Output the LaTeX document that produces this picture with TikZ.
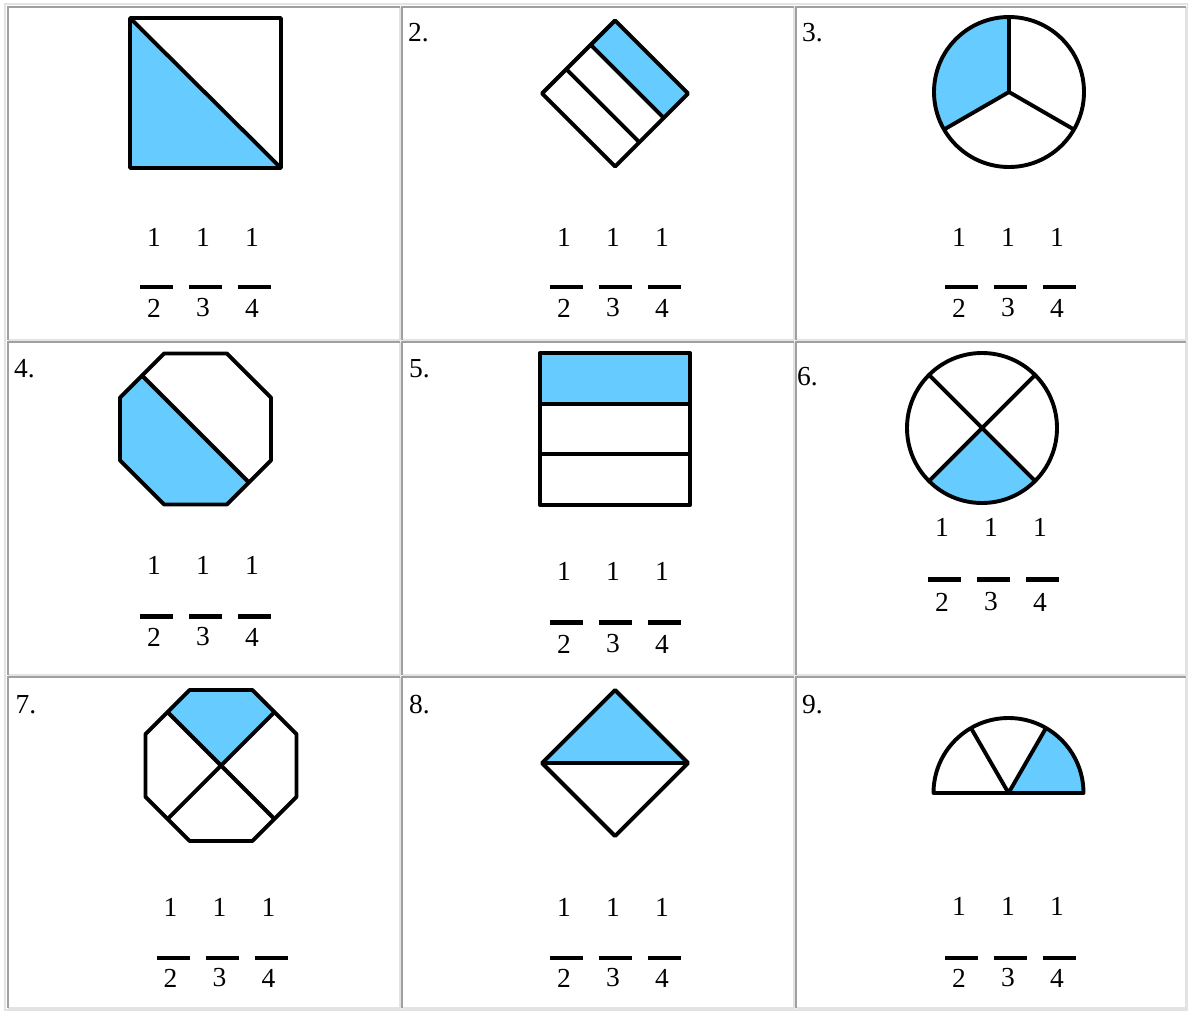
\documentclass[tikz,border=0pt]{standalone}
\usepackage{fontspec}
\setmainfont{Liberation Serif}
\definecolor{fracBlue}{HTML}{66CCFF}
\definecolor{cellDark}{HTML}{A0A0A0}
\definecolor{cellLight}{HTML}{E3E3E3}
\usepackage{tikz}
\usetikzlibrary{calc}

\tikzset{
  part/.style={draw=black, line width=3.9pt, line join=round},
  shade/.style={fill=fracBlue},
  num/.style={inner sep=0pt, font=\fontsize{27.5}{32}\selectfont},
  fbar/.style={fill=black, inner sep=0pt, minimum width=33pt, minimum height=4.5pt},
  cellno/.style={anchor=base west, inner sep=0pt, font=\fontsize{27.5}{32}\selectfont},
  celldark/.style={draw=cellDark, line width=2pt},
  celllight/.style={draw=cellLight, line width=2pt}
}

\begin{document}
\begin{tikzpicture}[x=1pt, y=-1pt]
\useasboundingbox[fill=white] (0,0) rectangle (1188,1011);
% table frame and cells
\draw[celllight] (5,4) rectangle (1187.5,1009.5);
\foreach \xl/\xr in {7.5/399.5, 402/793.5, 796/1185.5}
  \foreach \yt/\yb in {7/339.5, 342/674.5, 677/1007.5} {
    \draw[celllight] (\xl,\yb) -| (\xr,\yt);
    \draw[celldark] (\xl,\yb) |- (\xr,\yt);
  }

% 1: square, half shaded
\fill[shade] (130,18) -- (130,168) -- (281,168) -- cycle;
\draw[part] (130,18) rectangle (281,168) (130,18) -- (281,168);

% 2: tilted square in three strips
\coordinate (t2) at (615,20.5); \coordinate (r2) at (688,93.5);
\coordinate (b2) at (615,166.5); \coordinate (l2) at (542,93.5);
\fill[shade] (t2) -- (r2) -- ($(b2)!2/3!(r2)$) -- ($(l2)!2/3!(t2)$) -- cycle;
\draw[part] (t2) -- (r2) -- (b2) -- (l2) -- cycle;
\draw[part] ($(l2)!2/3!(t2)$) -- ($(b2)!2/3!(r2)$) ($(l2)!1/3!(t2)$) -- ($(b2)!1/3!(r2)$);

% 3: circle in thirds
\coordinate (c3) at (1009,92);
\fill[shade] (c3) -- ++(-90:75) arc[start angle=-90, end angle=-210, radius=75] -- cycle;
\draw[part] (c3) circle[radius=75];
\draw[part] (c3) -- +(-90:75) (c3) -- +(150:75) (c3) -- +(30:75);

% 4: octagon, half shaded
\begin{scope}[shift={(195.5,429)}]
\fill[shade] (-53.4,-53.4) -- (-75.5,-31.3) -- (-75.5,31.3) -- (-31.3,75.5) -- (31.3,75.5) -- (53.4,53.4) -- cycle;
\draw[part] (-31.3,-75.5) -- (31.3,-75.5) -- (75.5,-31.3) -- (75.5,31.3) -- (31.3,75.5) -- (-31.3,75.5) -- (-75.5,31.3) -- (-75.5,-31.3) -- cycle;
\draw[part] (-53.4,-53.4) -- (53.4,53.4);
\end{scope}

% 5: rectangle in three bands
\fill[shade] (540,353) rectangle (690,403.7);
\draw[part] (540,353) rectangle (690,505) (540,403.7) -- (690,403.7) (540,454.3) -- (690,454.3);

% 6: circle in quarters
\coordinate (c6) at (982,428);
\fill[shade] (c6) -- ++(135:75) arc[start angle=135, end angle=45, radius=75] -- cycle;
\draw[part] (c6) circle[radius=75];
\draw[part] (c6) ++(45:75) -- +(225:150) (c6) ++(135:75) -- +(-45:150);

% 7: octagon in quarters
\begin{scope}[shift={(221,765.5)}]
\fill[shade] (0,0) -- (-53.4,-53.4) -- (-31.3,-75.5) -- (31.3,-75.5) -- (53.4,-53.4) -- cycle;
\draw[part] (-31.3,-75.5) -- (31.3,-75.5) -- (75.5,-31.3) -- (75.5,31.3) -- (31.3,75.5) -- (-31.3,75.5) -- (-75.5,31.3) -- (-75.5,-31.3) -- cycle;
\draw[part] (-53.4,-53.4) -- (53.4,53.4) (53.4,-53.4) -- (-53.4,53.4);
\end{scope}

% 8: diamond, top half shaded
\coordinate (t8) at (615,690); \coordinate (r8) at (688,763);
\coordinate (b8) at (615,836); \coordinate (l8) at (542,763);
\fill[shade] (l8) -- (t8) -- (r8) -- cycle;
\draw[part] (t8) -- (r8) -- (b8) -- (l8) -- cycle (l8) -- (r8);

% 9: half circle in thirds
\coordinate (c9) at (1008.5,793);
\fill[shade] (c9) -- ++(0:75) arc[start angle=0, end angle=-60, radius=75] -- cycle;
\draw[part] (c9) ++(0:75) arc[start angle=0, end angle=-180, radius=75] -- cycle;
\draw[part] (c9) -- +(-60:75) (c9) -- +(-120:75);

% numbers
\node[cellno] (n2) at (408,42) {2.};
\node[cellno] (n3) at (802,42) {3.};
\node[cellno] (n4) at (14,377) {4.};
\node[cellno] (n5) at (409,377) {5.};
\node[cellno] (n6) at (797,385) {6.};
\node[cellno] (n7) at (15.5,713) {7.};
\node[cellno] (n8) at (409,713) {8.};
\node[cellno] (n9) at (802,713) {9.};

% choices 1/2 1/3 1/4
\foreach \k/\mx/\yn/\yb/\yd in {1/203/237/287/308, 2/613/237/287/308, 3/1008/237/287/308,
    4/203/565/616.5/637, 5/613/571/622.5/644, 6/991/527/579.5/602,
    7/219.5/907/958/978, 8/613/907/958/978, 9/1008/906/958/978}
  \foreach \d [count=\i] in {2,3,4} {
    \node[num] (top\k\d) at (\mx+49*\i-98, \yn) {1};
    \node[fbar] (bar\k\d) at (\mx+49*\i-95.5, \yb) {};
    \node[num] (bot\k\d) at (\mx+49*\i-98, \yd) {\d};
  }
\end{tikzpicture}
\end{document}
